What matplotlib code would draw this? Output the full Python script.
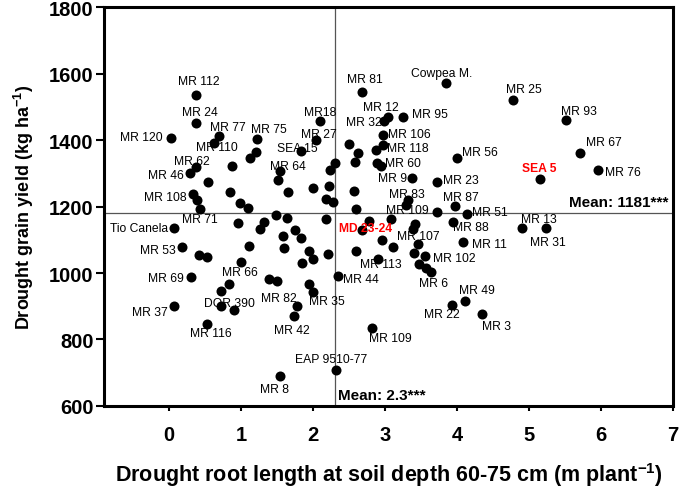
import matplotlib
matplotlib.use("Agg")
import matplotlib.pyplot as plt

plt.rcParams["font.family"] = ["Liberation Sans", "DejaVu Sans"]
plt.rcParams["mathtext.fontset"] = "custom"
plt.rcParams["mathtext.rm"] = "Liberation Sans"
plt.rcParams["mathtext.bf"] = "Liberation Sans:bold"

# genotypes, root length at 60-75 cm (m/plant), drought grain yield (kg/ha)
genotype = [
    "MR 112", "MR 24", "MR 120", "MR 77", "MR 110", "MR 75", "MR18", "MR 27",
    "SEA 15", "MR 62", "MR 46", "MR 64", "MR 108", "MR 71", "Tio Canela",
    "MR 53", "MR 66", "MR 69", "MR 37", "DOR 390", "MR 116", "MR 82", "MR 35",
    "MR 42", "EAP 9510-77", "MR 8", "MR 109", "MR 81", "Cowpea M.", "MR 25",
    "MR 93", "MR 12", "MR 32", "MR 95", "MR 106", "MR 118", "MR 60", "MR 56",
    "MR 67", "MR 76", "SEA 5", "MR 9", "MR 23", "MR 83", "MR 109", "MR 87",
    "MR 51", "MD 23-24", "MR 107", "MR 88", "MR 11", "MR 102", "MR 113",
    "MR 6", "MR 44", "MR 13", "MR 31", "MR 49", "MR 22", "MR 3",
] + [""] * 57

root_length = [
    0.375, 0.375, 0.032, 0.699, 0.621, 1.218, 2.097, 2.042,
    1.829, 0.375, 0.292, 1.546, 0.329, 0.431, 0.065,
    0.176, 1.003, 0.301, 0.076, 0.899, 0.535, 1.778, 2.0,
    1.736, 2.319, 1.542, 2.819, 2.676, 3.847, 4.778,
    5.514, 3.042, 2.986, 3.246, 2.976, 2.976, 2.940, 3.996,
    5.708, 5.951, 5.153, 3.378, 3.722, 3.324, 3.292, 3.972,
    4.139, 2.676, 3.393, 3.938, 4.079, 3.556, 2.907,
    3.639, 2.351, 4.899, 5.232, 4.111, 3.924, 4.340,
    # unlabeled
    1.208, 1.125, 0.882, 1.510, 2.310, 2.236, 0.538, 0.847, 1.657, 2.0,
    2.222, 2.185, 2.282, 0.385, 0.986, 1.101, 0.963, 1.326, 1.490, 1.646,
    1.754, 2.181, 1.264, 0.413, 0.528, 1.114, 1.579, 1.829, 1.601, 1.947,
    1.997, 1.847, 2.213, 0.833, 0.719, 1.392, 1.507, 1.940, 0.726, 2.868,
    2.504, 2.629, 2.583, 2.885, 2.567, 2.597, 3.718, 2.782, 3.079, 3.417,
    2.965, 3.104, 3.463, 3.400, 3.468, 3.569, 2.597,
]

grain_yield = [
    1537, 1452, 1405, 1412, 1391, 1402, 1457, 1399,
    1366, 1318, 1301, 1308, 1238, 1193, 1135,
    1077, 1033, 987, 900, 888, 846, 901, 943,
    872, 708, 689, 833, 1544, 1572, 1522,
    1461, 1471, 1459, 1470, 1415, 1385, 1323, 1346,
    1361, 1310, 1284, 1286, 1275, 1220, 1205, 1201,
    1177, 1130, 1132, 1153, 1094, 1051, 1043,
    1004, 991, 1137, 1134, 917, 903, 876,
    # unlabeled
    1364, 1345, 1321, 1280, 1330, 1311, 1273, 1245, 1245, 1255,
    1263, 1222, 1213, 1220, 1210, 1195, 1152, 1155, 1174, 1165,
    1130, 1164, 1133, 1053, 1049, 1081, 1110, 1105, 1074, 1067,
    1043, 1030, 1058, 967, 946, 983, 977, 966, 900, 1371,
    1388, 1361, 1333, 1330, 1246, 1193, 1185, 1157, 1163, 1147,
    1098, 1077, 1086, 1059, 1027, 1015, 1067,
]

mean_root = 2.3
mean_yield = 1181
highlight = ["SEA 5", "MD 23-24"]

# label placement (pixel offsets from the dot, horizontal alignment)
label_pos = [
    (3, 14, "center"), (4, 11, "center"), (-8.5, 1, "right"), (9, 9, "center"),
    (3, -4, "center"), (12.5, 10.5, "center"), (0, 9, "center"), (2.7, 6.5, "center"),
    (-3.7, 3.3, "center"), (-4.3, 6, "center"), (-6, -1.7, "right"), (7.7, 5, "center"),
    (-6, -3.3, "right"), (0, -10.3, "center"), (-5.4, 0, "right"),
    (-5.7, -2.7, "right"), (-1.2, -9.7, "center"), (-6.7, -1, "right"), (-6.2, -5.3, "right"),
    (-4.2, 6.7, "center"), (3.8, -9.3, "center"), (-18, 7.4, "center"), (14.2, -9, "center"),
    (-2.3, -14.4, "center"), (-5.2, 11, "center"), (-5, -12.7, "center"), (18.5, -10, "center"),
    (3.3, 13.3, "center"), (-4.7, 10, "center"), (11, 10.7, "center"),
    (12.3, 9, "center"), (-7.3, 9.2, "center"), (-2.3, -1.2, "right"), (9.6, 3, "left"),
    (5, 1, "left"), (4, -2.8, "left"), (4.3, 2.7, "left"), (5, 5.7, "left"),
    (5.7, 11.3, "left"), (7.5, -2.3, "left"), (-1.3, 10.5, "center"), (-4.9, -0.3, "right"),
    (6.3, 1.8, "left"), (-1.6, 6.4, "center"), (1.3, -4.7, "center"), (6.3, 9.6, "center"),
    (5.3, 2.7, "left"), (4.1, 1.8, "center"), (5.4, -6.7, "center"), (0.8, -5.3, "left"),
    (9, -2.3, "left"), (8.3, -2.3, "left"), (2, -5.3, "center"),
    (2.8, -11.6, "center"), (4.4, -3, "left"), (17, 9, "center"), (2.3, -14, "center"),
    (12, 10.8, "center"), (-9.8, -8.3, "center"), (15.2, -11.7, "center"),
]

fig = plt.figure(figsize=(6.8, 4.89), dpi=100)
ax = fig.add_axes([0.153, 0.168, 0.837, 0.815])

ax.axhline(mean_yield, color="#555555", lw=0.9, zorder=1)
ax.axvline(mean_root, color="#555555", lw=0.9, zorder=1)
ax.scatter(root_length, grain_yield, s=52, color="k", zorder=3, linewidths=0)

for i, (dx, dy, ha) in enumerate(label_pos):
    name = genotype[i]
    if name in highlight:
        kw = dict(color="#ff0000", fontweight="bold")
    else:
        kw = dict(color="k")
    ax.annotate(name, (root_length[i], grain_yield[i]), xytext=(dx, dy),
                textcoords="offset pixels", ha=ha, va="center",
                fontsize=8.7, zorder=4, **kw)

ax.text(2.35, 632, "Mean: 2.3***", fontsize=11, fontweight="bold",
        ha="left", va="center")
ax.text(6.935, 1214, "Mean: 1181***", fontsize=11, fontweight="bold",
        ha="right", va="center")

ax.set_xlim(-0.9, 7)
ax.set_ylim(600, 1800)
ax.set_xticks(range(0, 8))
ax.set_yticks(range(600, 1801, 200))
ax.tick_params(axis="x", direction="out", length=3.6, width=1.5,
               labelsize=14.5, pad=10)
ax.tick_params(axis="y", direction="out", length=6, width=1.5,
               labelsize=14.5, pad=1.5)
for lab in ax.get_xticklabels() + ax.get_yticklabels():
    lab.set_fontweight("bold")
for sp in ax.spines.values():
    sp.set_linewidth(2.2)

ax.set_xlabel(r"Drought root length at soil depth 60-75 cm (m plant$^{\mathbf{-1}}$)",
              fontsize=15.5, fontweight="bold", labelpad=12)
ax.set_ylabel(r"Drought grain yield (kg ha$^{\mathbf{-1}}$)",
              fontsize=13, fontweight="bold", labelpad=9)

fig.savefig("out.png", dpi=100)
